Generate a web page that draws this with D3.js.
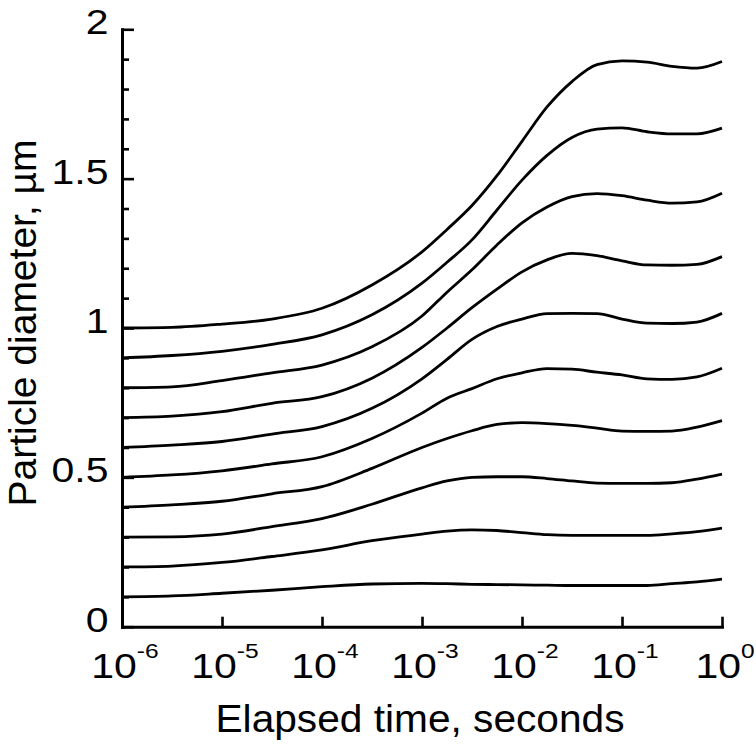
<!DOCTYPE html>
<html>
<head>
<meta charset="utf-8">
<script src="https://cdn.jsdelivr.net/npm/d3@7"></script>
<style>
  html, body { margin: 0; padding: 0; background: #fff; }
  svg { display: block; }
  text { font-family: "Liberation Sans", Arial, sans-serif; fill: #000; }
</style>
</head>
<body>
<svg id="chart" width="756" height="744"></svg>
<script>
// ---- data ----
const times = [1e-6, 3.16e-6, 1e-5, 3.16e-5, 1e-4, 3.16e-4, 1e-3, 1.78e-3, 3.16e-3, 5.62e-3,
               1e-2, 1.78e-2, 3.16e-2, 5.62e-2, 1e-1, 1.78e-1, 3.16e-1, 5.62e-1, 1];
const diam10 = [1.000, 1.002, 1.013, 1.030, 1.066, 1.144, 1.255, 1.330, 1.410, 1.510, 1.625, 1.740, 1.825, 1.882, 1.894, 1.890, 1.876, 1.870, 1.892];
const diam09 = [0.900, 0.908, 0.922, 0.945, 0.977, 1.044, 1.150, 1.220, 1.295, 1.395, 1.495, 1.578, 1.638, 1.666, 1.670, 1.657, 1.650, 1.650, 1.669];
const diam08 = [0.800, 0.803, 0.824, 0.850, 0.876, 0.937, 1.040, 1.120, 1.195, 1.278, 1.352, 1.405, 1.440, 1.450, 1.443, 1.428, 1.418, 1.422, 1.451];
const diam07 = [0.700, 0.705, 0.720, 0.748, 0.770, 0.832, 0.935, 1.000, 1.068, 1.130, 1.188, 1.228, 1.250, 1.242, 1.225, 1.211, 1.210, 1.213, 1.239];
const diam06 = [0.600, 0.608, 0.620, 0.645, 0.670, 0.731, 0.830, 0.895, 0.962, 1.005, 1.030, 1.048, 1.049, 1.048, 1.030, 1.016, 1.015, 1.020, 1.049];
const diam05 = [0.500, 0.508, 0.522, 0.545, 0.569, 0.630, 0.715, 0.765, 0.797, 0.830, 0.850, 0.864, 0.862, 0.852, 0.843, 0.830, 0.828, 0.836, 0.865];
const diam04 = [0.400, 0.408, 0.420, 0.445, 0.469, 0.530, 0.600, 0.630, 0.656, 0.677, 0.683, 0.680, 0.674, 0.665, 0.655, 0.654, 0.655, 0.668, 0.690];
const diam03 = [0.300, 0.301, 0.310, 0.335, 0.362, 0.410, 0.465, 0.488, 0.500, 0.502, 0.502, 0.496, 0.488, 0.481, 0.480, 0.480, 0.482, 0.494, 0.511];
const diam02 = [0.200, 0.203, 0.215, 0.235, 0.257, 0.288, 0.310, 0.320, 0.324, 0.322, 0.315, 0.308, 0.306, 0.306, 0.306, 0.306, 0.311, 0.318, 0.330];
const diam01 = [0.100, 0.103, 0.112, 0.122, 0.134, 0.143, 0.145, 0.144, 0.142, 0.141, 0.140, 0.139, 0.138, 0.138, 0.138, 0.138, 0.144, 0.150, 0.159];
const seriesList = [diam10, diam09, diam08, diam07, diam06, diam05, diam04, diam03, diam02, diam01];

const xTickValues = [1e-6, 1e-5, 1e-4, 1e-3, 1e-2, 1e-1, 1];
const xTickExponents = ["-6", "-5", "-4", "-3", "-2", "-1", "0"];
const yTickValues = d3.range(0, 21).map(i => i / 10);
const yLabelValues = [0, 0.5, 1, 1.5, 2];
const yLabelTexts = ["0", "0.5", "1", "1.5", "2"];
const xTitle = "Elapsed time, seconds";
const yTitle = "Particle diameter, \u00B5m";

// ---- layout ----
const plotLeft = 122, plotRight = 722, plotTop = 29.3, plotBottom = 626.7;
const svg = d3.select("#chart");
const x = d3.scaleLog().domain([1e-6, 1]).range([plotLeft, plotRight]);
const y = d3.scaleLinear().domain([0, 2]).range([plotBottom, plotTop]);
const SX = 1.17; // horizontal stretch of glyphs in reference

// curves
const line = d3.line()
  .x((d, i) => x(times[i]))
  .y(d => y(d))
  .curve(d3.curveMonotoneX);

svg.append("g").selectAll("path")
  .data(seriesList)
  .join("path")
  .attr("d", d => line(d))
  .attr("fill", "none")
  .attr("stroke", "#000")
  .attr("stroke-width", 2.8)
  .attr("stroke-linejoin", "round");

// x axis
const xAxis = d3.axisBottom(x).tickValues(xTickValues).tickSizeInner(-10).tickSizeOuter(0).tickFormat("");
const gx = svg.append("g").attr("transform", `translate(0,${plotBottom})`).call(xAxis);
gx.select(".domain").attr("stroke-width", 3).attr("stroke-linecap", "square");
gx.selectAll(".tick line").attr("stroke-width", 2.6);

// y axis
const yAxis = d3.axisLeft(y).tickValues(yTickValues).tickSizeInner(-7).tickSizeOuter(0).tickFormat("");
const gy = svg.append("g").attr("transform", `translate(${plotLeft},0)`).call(yAxis);
gy.select(".domain").attr("stroke-width", 3).attr("stroke-linecap", "square");
gy.selectAll(".tick line")
  .attr("stroke-width", 2.6)
  .attr("x2", d => (Math.abs(d * 2 - Math.round(d * 2)) < 1e-6 ? 12 : 7));

// x tick labels
const xl = svg.append("g");
xTickValues.forEach((v, i) => {
  const t = xl.append("text")
    .attr("transform", `translate(${x(v) + 3},678) scale(${SX},1)`)
    .attr("text-anchor", "middle")
    .style("font-size", "35px");
  t.append("tspan").text("10");
  t.append("tspan").attr("dy", -20).style("font-size", "21px").text(xTickExponents[i]);
});

// y tick labels
svg.append("g").selectAll("text")
  .data(yLabelValues)
  .join("text")
  .attr("transform", d => `translate(108.5,${y(d) + 5}) scale(${SX},1)`)
  .attr("text-anchor", "end")
  .style("font-size", "35px")
  .text((d, i) => yLabelTexts[i]);

// axis titles
svg.append("text")
  .attr("transform", `translate(420,732) scale(1.07,1)`)
  .attr("text-anchor", "middle")
  .style("font-size", "38px")
  .text(xTitle);

svg.append("text")
  .attr("transform", `translate(36,323) rotate(-90)`)
  .attr("text-anchor", "middle")
  .style("font-size", "39px")
  .text(yTitle);
</script>
</body>
</html>
